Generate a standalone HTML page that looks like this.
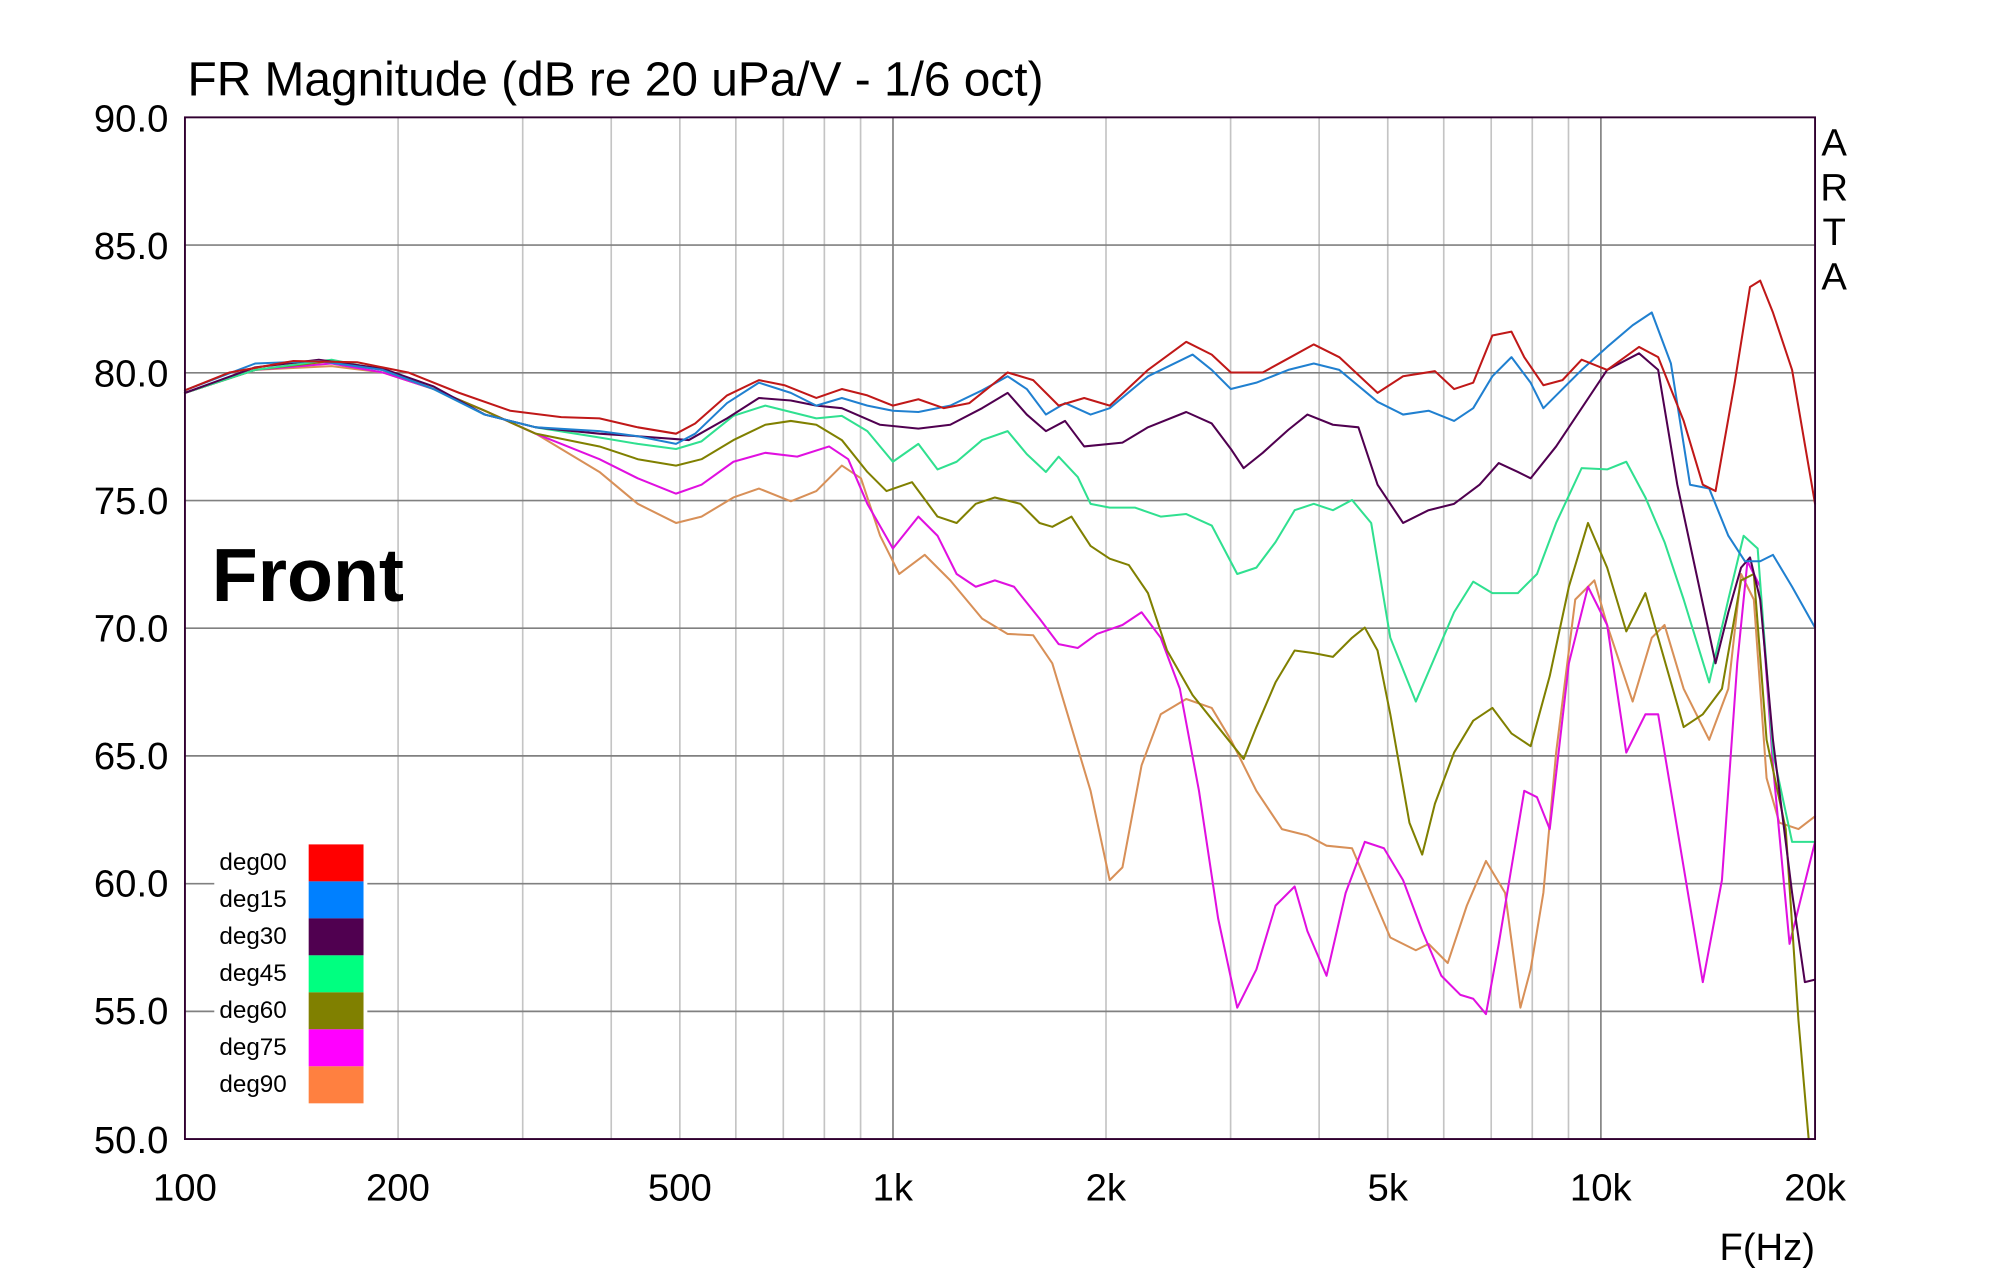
<!DOCTYPE html>
<html><head><meta charset="utf-8"><style>html,body{margin:0;padding:0;background:#fff}svg{display:block}</style></head>
<body>
<svg width="2000" height="1280" viewBox="0 0 1568 1003.5" xmlns="http://www.w3.org/2000/svg" font-family="Liberation Sans, Arial, sans-serif">
<rect width="1568" height="1003.5" fill="#fff"/>
<g stroke="#c4c4c4" stroke-width="1.3">
<line x1="312.1" y1="92" x2="312.1" y2="893"/><line x1="409.8" y1="92" x2="409.8" y2="893"/><line x1="479.2" y1="92" x2="479.2" y2="893"/><line x1="533" y1="92" x2="533" y2="893"/><line x1="576.9" y1="92" x2="576.9" y2="893"/><line x1="614.1" y1="92" x2="614.1" y2="893"/><line x1="646.3" y1="92" x2="646.3" y2="893"/><line x1="674.7" y1="92" x2="674.7" y2="893"/>
<line x1="867.1" y1="92" x2="867.1" y2="893"/><line x1="964.8" y1="92" x2="964.8" y2="893"/><line x1="1034.2" y1="92" x2="1034.2" y2="893"/><line x1="1088" y1="92" x2="1088" y2="893"/><line x1="1131.9" y1="92" x2="1131.9" y2="893"/><line x1="1169.1" y1="92" x2="1169.1" y2="893"/><line x1="1201.3" y1="92" x2="1201.3" y2="893"/><line x1="1229.7" y1="92" x2="1229.7" y2="893"/>
</g>
<g stroke="#808080" stroke-width="1.3">
<line x1="700.1" y1="92" x2="700.1" y2="893"/><line x1="1255.1" y1="92" x2="1255.1" y2="893"/>
<line x1="145" y1="192.1" x2="1423" y2="192.1"/><line x1="145" y1="292.3" x2="1423" y2="292.3"/><line x1="145" y1="392.4" x2="1423" y2="392.4"/><line x1="145" y1="492.5" x2="1423" y2="492.5"/><line x1="145" y1="592.6" x2="1423" y2="592.6"/><line x1="145" y1="692.8" x2="1423" y2="692.8"/><line x1="145" y1="792.9" x2="1423" y2="792.9"/>
</g>
<g fill="none" stroke-width="1.6" stroke-linejoin="round" stroke-linecap="round">
<polyline stroke="#d89058" points="145,308 200,290 260,287 300,292 340,305 380,322 420,340 470,370 500,395 530,410 550,405 575,390 595,383 620,393 640,385 660,365 675,375 690,420 705,450 725,435 745,455 770,485 790,497 810,498 825,520 840,570 855,620 870,690 880,680 895,600 910,560 930,548 950,555 965,580 985,620 1005,650 1025,655 1040,663 1060,665 1075,700 1090,735 1110,745 1120,740 1135,755 1150,710 1165,675 1180,700 1192,790 1200,760 1210,700 1220,590 1235,470 1250,455 1260,490 1280,550 1295,500 1305,490 1320,540 1340,580 1355,540 1365,450 1375,470 1385,610 1395,645 1410,650 1423,640"/>
<polyline stroke="#e010e0" points="145,308 200,290 260,285 300,292 340,305 380,322 420,340 470,360 500,375 530,387 550,380 575,362 600,355 625,358 650,350 665,360 680,395 700,430 720,405 735,420 750,450 765,460 780,455 795,460 815,485 830,505 845,508 860,497 880,490 895,480 910,500 925,540 940,620 955,720 970,790 985,760 1000,710 1015,695 1025,730 1040,765 1055,700 1070,660 1085,665 1100,690 1115,730 1130,765 1145,780 1155,783 1165,795 1175,740 1185,680 1195,620 1205,625 1215,650 1230,520 1245,460 1260,490 1275,590 1290,560 1300,560 1315,650 1335,770 1350,690 1362,520 1370,440 1380,460 1390,600 1403,740 1413,700 1423,660"/>
<polyline stroke="#808000" points="145,308 200,290 260,283 300,290 340,305 380,322 420,340 470,350 500,360 530,365 550,360 575,345 600,333 620,330 640,333 660,345 680,370 695,385 715,378 735,405 750,410 765,395 780,390 800,395 815,410 825,413 840,405 855,428 870,438 885,443 900,465 915,510 935,545 955,570 975,595 985,570 1000,535 1015,510 1030,512 1045,515 1060,500 1070,492 1080,510 1090,560 1105,645 1115,670 1125,630 1140,590 1155,565 1170,555 1185,575 1200,585 1215,530 1230,460 1245,410 1260,445 1275,495 1290,465 1300,500 1320,570 1335,560 1350,540 1365,455 1375,450 1385,580 1400,650 1410,800 1418,893"/>
<polyline stroke="#30e090" points="145,308 200,290 260,282 300,290 340,305 380,325 420,335 470,343 500,348 530,352 550,346 575,326 600,318 620,323 640,328 660,326 680,338 700,362 720,348 735,368 750,362 770,345 790,338 805,356 820,370 830,358 845,374 855,395 870,398 890,398 910,405 930,403 950,412 970,450 985,445 1000,425 1015,400 1030,395 1045,400 1060,392 1075,410 1090,500 1110,550 1125,515 1140,480 1155,456 1170,465 1190,465 1205,450 1220,410 1240,367 1260,368 1275,362 1290,390 1305,425 1320,470 1340,535 1355,470 1367,420 1378,430 1390,590 1405,660 1423,660"/>
<polyline stroke="#500050" points="145,308 200,288 250,282 300,289 340,303 380,325 420,335 470,340 500,342 540,345 570,328 595,312 620,314 640,318 660,320 690,333 720,336 745,333 770,320 790,308 805,325 820,338 835,330 850,350 880,347 900,335 930,323 950,332 965,352 975,367 990,355 1010,337 1025,325 1045,333 1065,335 1080,380 1100,410 1120,400 1140,395 1160,380 1175,363 1190,370 1200,375 1220,350 1240,320 1260,290 1285,277 1300,290 1315,380 1330,450 1345,520 1355,480 1365,445 1372,437 1380,470 1390,580 1405,700 1415,770 1423,768"/>
<polyline stroke="#2080d0" points="145,306 200,285 250,283 300,290 340,305 380,325 420,335 470,338 500,342 530,348 545,340 570,316 595,300 620,308 640,318 660,312 680,318 700,322 720,323 745,318 770,306 790,295 805,305 820,325 835,316 855,325 870,320 900,295 935,278 950,290 965,305 985,300 1010,290 1030,285 1050,290 1080,315 1100,325 1120,322 1140,330 1155,320 1170,295 1185,280 1200,300 1210,320 1225,305 1240,290 1260,272 1280,255 1295,245 1310,285 1325,380 1340,383 1355,420 1368,440 1380,440 1390,435 1405,460 1423,492"/>
<polyline stroke="#c01818" points="145,306 180,292 230,283 280,284 320,292 360,308 400,322 440,327 470,328 500,335 530,340 545,332 570,310 595,298 615,302 640,312 660,305 680,310 700,318 720,313 740,320 760,316 790,292 810,298 830,318 850,312 870,318 900,290 930,268 950,278 965,292 990,292 1010,281 1030,270 1050,280 1080,308 1100,295 1125,291 1140,305 1155,300 1170,263 1185,260 1195,280 1210,302 1225,298 1240,282 1260,290 1285,272 1300,280 1320,330 1335,380 1345,385 1360,300 1372,225 1380,220 1390,245 1405,290 1423,395"/>
</g>
<rect x="145" y="92" width="1278" height="801" fill="none" stroke="#300030" stroke-width="1.5"/>
<rect x="168" y="660" width="120" height="207" fill="#fff"/>
<g font-size="19" fill="#000">
<text x="172" y="682">deg00</text><text x="172" y="711">deg15</text><text x="172" y="740">deg30</text><text x="172" y="769">deg45</text><text x="172" y="798">deg60</text><text x="172" y="827">deg75</text><text x="172" y="856">deg90</text>
</g>
<rect x="242" y="662" width="43" height="29" fill="#ff0000"/>
<rect x="242" y="691" width="43" height="29" fill="#0080ff"/>
<rect x="242" y="720" width="43" height="29" fill="#500050"/>
<rect x="242" y="749" width="43" height="29" fill="#00ff80"/>
<rect x="242" y="778" width="43" height="29" fill="#808000"/>
<rect x="242" y="807" width="43" height="29" fill="#ff00ff"/>
<rect x="242" y="836" width="43" height="29" fill="#ff8040"/>
<text x="147" y="75" font-size="37.5">FR Magnitude (dB re 20 uPa/V - 1/6 oct)</text>
<g font-size="30" text-anchor="end">
<text x="132" y="103">90.0</text><text x="132" y="203">85.0</text><text x="132" y="303">80.0</text><text x="132" y="403">75.0</text><text x="132" y="503">70.0</text><text x="132" y="603">65.0</text><text x="132" y="703">60.0</text><text x="132" y="803">55.0</text><text x="132" y="904">50.0</text>
</g>
<g font-size="30" text-anchor="middle">
<text x="145" y="941">100</text><text x="312" y="941">200</text><text x="533" y="941">500</text><text x="700" y="941">1k</text><text x="867" y="941">2k</text><text x="1088" y="941">5k</text><text x="1255" y="941">10k</text><text x="1423" y="941">20k</text>
<text x="1438" y="122">A</text><text x="1438" y="157">R</text><text x="1438" y="192">T</text><text x="1438" y="227">A</text>
</g>
<text x="1423" y="988" font-size="30" text-anchor="end">F(Hz)</text>
<text x="166" y="471" font-size="59" font-weight="bold">Front</text>
</svg>
</body></html>
